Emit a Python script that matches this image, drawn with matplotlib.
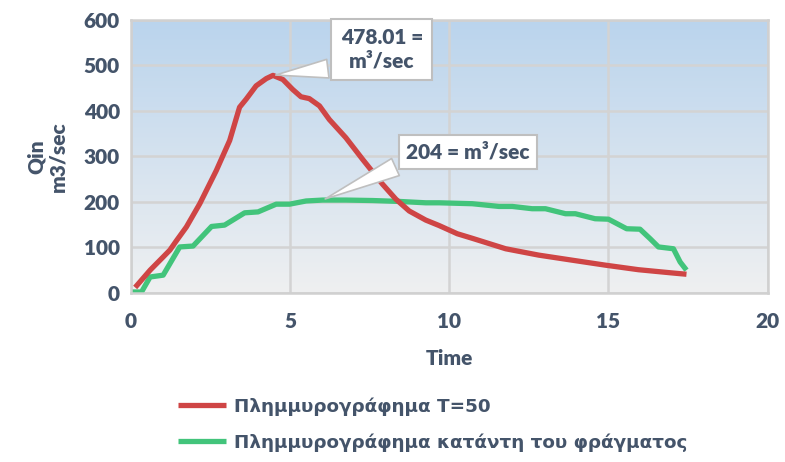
import numpy as np
import matplotlib
matplotlib.use("Agg")
import matplotlib.pyplot as plt
from matplotlib.colors import LinearSegmentedColormap
from matplotlib.font_manager import FontProperties

plt.rcParams['font.family'] = ['Lato', 'Open Sans', 'DejaVu Sans']
plt.rcParams['font.weight'] = 'bold'

# Inflow hydrograph T=50
t_in = [0.13, 0.6, 1.01, 1.22, 1.43, 1.74, 2.16, 2.68, 3.1, 3.41, 3.62, 3.93,
        4.25, 4.46, 4.77, 5.08, 5.34, 5.6, 5.92, 6.23, 6.75, 7.27, 7.9, 8.32,
        8.74, 9.26, 9.68, 10.25, 10.72, 11.77, 12.81, 13.85, 14.9, 15.94,
        16.98, 17.45]
q_in = [12, 50, 79, 94, 115, 145, 196, 269, 335, 408, 426, 455,
        471, 478.01, 469, 447, 431, 427, 411, 381, 341, 294, 239, 206,
        180, 160, 148, 130, 120, 97, 83, 72, 61, 51,
        44, 41]

# Outflow hydrograph downstream of the dam
t_out = [0.02, 0.33, 0.6, 1.01, 1.53, 1.95, 2.53, 2.94, 3.57, 3.99, 4.56, 4.98,
         5.5, 6.02, 6.75, 7.59, 8.43, 9.26, 9.68, 10.72, 11.56, 11.98, 12.6,
         13.02, 13.65, 13.96, 14.58, 15.0, 15.57, 15.99, 16.31, 16.57, 17.04,
         17.25, 17.45]
q_out = [2, 2, 35, 39, 101, 103, 146, 149, 176, 178, 195, 195,
         202, 204, 204, 203, 201, 198, 198, 196, 190, 190, 185,
         185, 174, 174, 163, 162, 141, 140, 119, 101, 97,
         68, 50]

peak_in = 478.01
peak_out = 204

labels = ["Πλημμυρογράφημα T=50", "Πλημμυρογράφημα κατάντη του φράγματος"]
x_ticks = [0, 5, 10, 15, 20]
y_ticks = [0, 100, 200, 300, 400, 500, 600]

txt = "#44546a"
red = "#cf4545"
green = "#42c47b"

fig = plt.figure(figsize=(7.85, 4.62), dpi=100)
ax = fig.add_axes([0.1669, 0.366, 0.811, 0.591])

# vertical gradient background
cmap = LinearSegmentedColormap.from_list("bg", ["#eff0f1", "#bad4ed"])
grad = np.linspace(0, 1, 256).reshape(-1, 1)
ax.imshow(grad, extent=[0, 1, 0, 1], transform=ax.transAxes, aspect="auto",
          cmap=cmap, origin="lower", zorder=0)

ax.set_xlim(0, 20)
ax.set_ylim(0, 600)
ax.set_xticks(x_ticks)
ax.set_yticks(y_ticks)
ax.grid(True, color="#d3d3d3", linewidth=1.8, zorder=1)
for s in ax.spines.values():
    s.set_color("#d0d0d0")
    s.set_linewidth(1.8)
ax.tick_params(axis="y", length=0, labelsize=15, labelcolor=txt, pad=8)
ax.tick_params(axis="x", length=0, labelsize=15, labelcolor=txt, pad=14)
for lab in ax.get_xticklabels() + ax.get_yticklabels():
    lab.set_fontweight("heavy")

l1, = ax.plot(t_in, q_in, color=red, lw=3.8, solid_capstyle="butt", zorder=3,
              label=labels[0])
l2, = ax.plot(t_out, q_out, color=green, lw=3.8, solid_capstyle="butt", zorder=2,
              label=labels[1])

ax.set_xlabel("Time", fontsize=15, color=txt, fontweight="heavy", labelpad=13)
ax.set_ylabel("Qin\nm3/sec", fontsize=15, color=txt, fontweight="heavy",
              labelpad=12, linespacing=1.15)

# callouts
ipk = int(np.argmax(q_in))
ax.annotate(f"{peak_in:.2f} =\nm³/sec", xy=(t_in[ipk], q_in[ipk]),
            xytext=(7.88, 535), textcoords="data", ha="center", va="center",
            fontsize=15, color=txt, fontweight="heavy", linespacing=1.3,
            bbox=dict(boxstyle="square,pad=0.45", fc="white", ec="#bfbfbf", lw=1.5),
            arrowprops=dict(arrowstyle="wedge,tail_width=0.9,shrink_factor=0.5",
                            fc="white", ec="#bfbfbf", lw=1.2, relpos=(0.05, 0.1)),
            zorder=6)
jpk = q_out.index(peak_out)
ax.annotate(f"{peak_out} = m³/sec", xy=(t_out[jpk], q_out[jpk]),
            xytext=(10.58, 310), textcoords="data", ha="center", va="center",
            fontsize=15, color=txt, fontweight="heavy",
            bbox=dict(boxstyle="square,pad=0.35", fc="white", ec="#bfbfbf", lw=1.5),
            arrowprops=dict(arrowstyle="wedge,tail_width=0.9,shrink_factor=0.5",
                            fc="white", ec="#bfbfbf", lw=1.2, relpos=(0.05, 0.1)),
            zorder=6)

legend_font = FontProperties(family="DejaVu Sans", weight="bold", size=13.2)
leg = fig.legend(handles=[l1, l2], loc="upper left", bbox_to_anchor=(0.215, 0.16),
                 frameon=False, handlelength=2.6, handletextpad=0.45,
                 labelspacing=0.95, borderpad=0, prop=legend_font)
for t in leg.get_texts():
    t.set_color(txt)

fig.savefig("out.png", dpi=100)
